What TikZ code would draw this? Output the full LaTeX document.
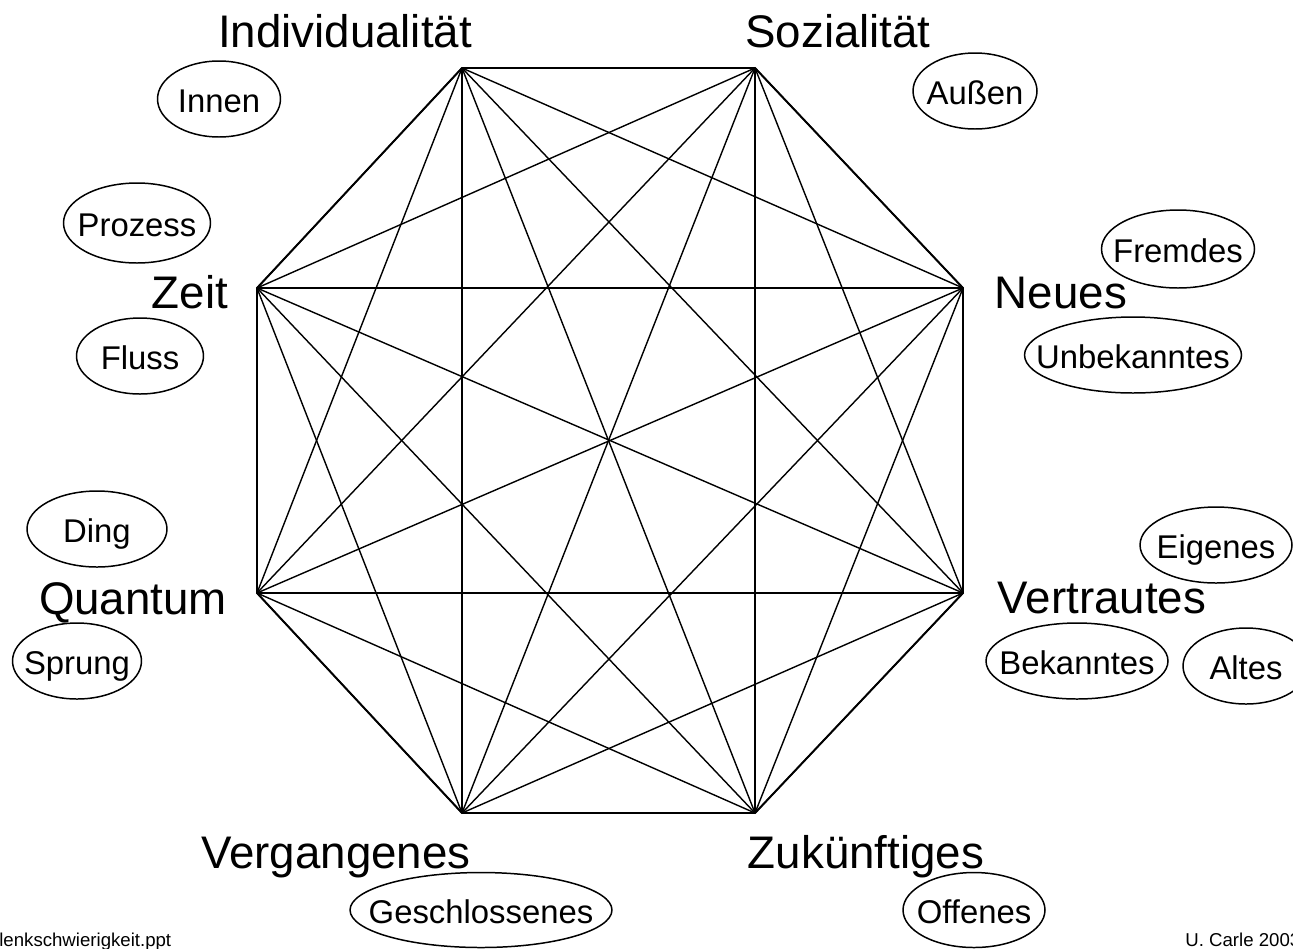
\documentclass[tikz,border=0pt]{standalone}
\usepackage{fontspec}
\setmainfont{Liberation Sans}
\usetikzlibrary{shapes.geometric}

\begin{document}
\begin{tikzpicture}[x=0.02cm,y=-0.02cm,
  every node/.style={font=\fontsize{18.7}{22}\selectfont},
  pole/.style={font=\fontsize{26}{30}\selectfont,anchor=base,inner sep=0pt},
  tag/.style={ellipse,draw,line width=0.85pt,inner sep=0pt,minimum height=1.52cm},
  every label/.style={inner sep=0pt,text height=15.9pt,text depth=0pt},
  foot/.style={font=\fontsize{10.6}{12}\selectfont,anchor=base west,inner sep=0pt},
  rim/.style={line width=1.1pt,line join=miter},
  web/.style={line width=0.8pt}]
  \useasboundingbox (0,0) rectangle (1293,948);

  % corners of the octagon, clockwise from top left
  \coordinate (c1) at (462,68);
  \coordinate (c2) at (755,68);
  \coordinate (c3) at (963,288);
  \coordinate (c4) at (963,593);
  \coordinate (c5) at (755,813);
  \coordinate (c6) at (462,813);
  \coordinate (c7) at (257,593);
  \coordinate (c8) at (257,288);

  % every corner joined to every other
  \foreach \i in {1,...,7}{
    \pgfmathtruncatemacro\n{\i+1}
    \foreach \j in {\n,...,8}
      \draw[web] (c\i) -- (c\j);
  }
  \draw[rim] (c1) -- (c2) -- (c3) -- (c4) -- (c5) -- (c6) -- (c7) -- (c8) -- cycle;

  % poles
  \node[pole] (indiv) at (345,47) {Individualität};
  \node[pole] (sozial) at (838,47) {Sozialität};
  \node[pole] (zeit) at (190,308) {Zeit};
  \node[pole] (neues) at (1061,308) {Neues};
  \node[pole] (quantum) at (133,614) {Quantum};
  \node[pole] (vertraut) at (1102,613) {Vertrautes};
  \node[pole] (vergangen) at (336,868) {Vergangenes};
  \node[pole] (zukunft) at (866,868) {Zukünftiges};

  % ellipses
  \node[tag,minimum width=2.46cm,label=center:Innen] (innen) at (219,99) {};
  \node[tag,minimum width=2.48cm,label=center:Außen] (aussen) at (975,91) {};
  \node[tag,minimum width=2.94cm,minimum height=1.6cm,label=center:Prozess] (prozess) at (137,223) {};
  \node[tag,minimum width=3.06cm,minimum height=1.56cm,label=center:Fremdes] (fremdes) at (1178,249) {};
  \node[tag,minimum width=2.54cm,label=center:Fluss] (fluss) at (140,356) {};
  \node[tag,minimum width=4.34cm,label=center:Unbekanntes] (unbekannt) at (1133,355) {};
  \node[tag,minimum width=2.8cm,label=center:Ding] (ding) at (97,529) {};
  \node[tag,minimum width=3.04cm,label=center:Eigenes] (eigenes) at (1216,545) {};
  \node[tag,minimum width=2.58cm,label=center:Sprung] (sprung) at (77,661) {};
  \node[tag,minimum width=3.64cm,label=center:Bekanntes] (bekannt) at (1077,661) {};
  \node[tag,minimum width=2.52cm,label=center:Altes] (altes) at (1246,666) {};
  \node[tag,minimum width=5.24cm,minimum height=1.5cm,label=center:Geschlossenes] (geschlossen) at (481,910) {};
  \node[tag,minimum width=2.84cm,minimum height=1.5cm,label=center:Offenes] (offenes) at (974,910) {};

  % footer
  \node[foot] (datei) at (-1,946) {lenkschwierigkeit.ppt};
  \node[foot] (autor) at (1185,946) {U. Carle 2003};
\end{tikzpicture}
\end{document}
